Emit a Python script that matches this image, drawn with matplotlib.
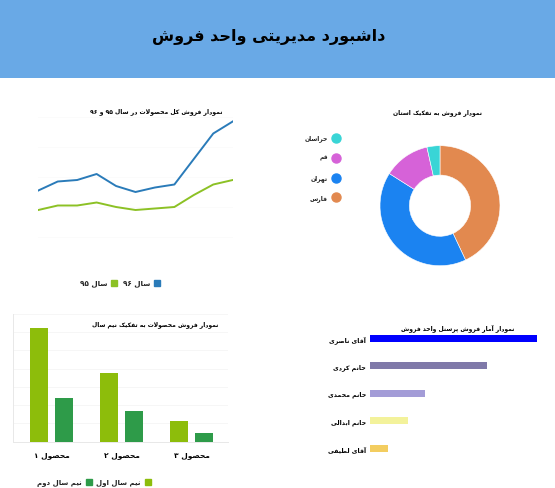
import re
import numpy as np
import matplotlib
matplotlib.use("Agg")
import matplotlib.pyplot as plt
from matplotlib.patches import Rectangle
from matplotlib.lines import Line2D

W, H = 555, 489

# ---- data ----
header_title = "داشبورد مدیریتی واحد فروش"

line_title = "نمودار فروش کل محصولات در سال ۹۵ و ۹۶"
line_labels = ["سال ۹۶", "سال ۹۵"]
sales_96 = [51, 57, 58, 62, 54, 50, 53, 55, 72, 89, 97]
sales_95 = [38, 41, 41, 43, 40, 38, 39, 40, 48, 55, 58]

pie_title = "نمودار فروش به تفکیک استان"
provinces = ["فارس", "تهران", "قم", "خراسان"]
province_share = [43, 41, 12.5, 3.5]
province_colors = ["#e2894f", "#1b83f1", "#d662d8", "#39d5d6"]

half_title = "نمودار فروش محصولات به تفکیک نیم سال"
products = ["محصول ۱", "محصول ۲", "محصول ۳"]
half_labels = ["نیم سال اول", "نیم سال دوم"]
first_half = [125, 75, 23]
second_half = [48, 34, 9.5]

staff_title = "نمودار آمار فروش پرسنل واحد فروش"
staff = ["آقای ناصری", "خانم کردی", "خانم محمدی", "خانم ابدالی", "آقای لطیفی"]
staff_sales = [100, 70, 33, 23, 11]
staff_colors = ["#0000ff", "#7f79a9", "#a39cd7", "#f3f29b", "#f3cd60"]


# ---- minimal persian shaping (matplotlib has no bidi / joining) ----
def _f(*codes):
    return tuple(chr(c) if c else None for c in codes)

FORMS = {
    'ا': _f(0xFE8D, 0xFE8E, 0, 0), 'آ': _f(0xFE81, 0xFE82, 0, 0),
    'ب': _f(0xFE8F, 0xFE90, 0xFE91, 0xFE92), 'پ': _f(0xFB56, 0xFB57, 0xFB58, 0xFB59),
    'ت': _f(0xFE95, 0xFE96, 0xFE97, 0xFE98), 'ث': _f(0xFE99, 0xFE9A, 0xFE9B, 0xFE9C),
    'ج': _f(0xFE9D, 0xFE9E, 0xFE9F, 0xFEA0), 'چ': _f(0xFB7A, 0xFB7B, 0xFB7C, 0xFB7D),
    'ح': _f(0xFEA1, 0xFEA2, 0xFEA3, 0xFEA4), 'خ': _f(0xFEA5, 0xFEA6, 0xFEA7, 0xFEA8),
    'د': _f(0xFEA9, 0xFEAA, 0, 0), 'ذ': _f(0xFEAB, 0xFEAC, 0, 0),
    'ر': _f(0xFEAD, 0xFEAE, 0, 0), 'ز': _f(0xFEAF, 0xFEB0, 0, 0),
    'ژ': _f(0xFB8A, 0xFB8B, 0, 0),
    'س': _f(0xFEB1, 0xFEB2, 0xFEB3, 0xFEB4), 'ش': _f(0xFEB5, 0xFEB6, 0xFEB7, 0xFEB8),
    'ص': _f(0xFEB9, 0xFEBA, 0xFEBB, 0xFEBC), 'ض': _f(0xFEBD, 0xFEBE, 0xFEBF, 0xFEC0),
    'ط': _f(0xFEC1, 0xFEC2, 0xFEC3, 0xFEC4), 'ظ': _f(0xFEC5, 0xFEC6, 0xFEC7, 0xFEC8),
    'ع': _f(0xFEC9, 0xFECA, 0xFECB, 0xFECC), 'غ': _f(0xFECD, 0xFECE, 0xFECF, 0xFED0),
    'ف': _f(0xFED1, 0xFED2, 0xFED3, 0xFED4), 'ق': _f(0xFED5, 0xFED6, 0xFED7, 0xFED8),
    'ک': _f(0xFB8E, 0xFB8F, 0xFB90, 0xFB91), 'گ': _f(0xFB92, 0xFB93, 0xFB94, 0xFB95),
    'ل': _f(0xFEDD, 0xFEDE, 0xFEDF, 0xFEE0), 'م': _f(0xFEE1, 0xFEE2, 0xFEE3, 0xFEE4),
    'ن': _f(0xFEE5, 0xFEE6, 0xFEE7, 0xFEE8), 'ه': _f(0xFEE9, 0xFEEA, 0xFEEB, 0xFEEC),
    'و': _f(0xFEED, 0xFEEE, 0, 0), 'ی': _f(0xFBFC, 0xFBFD, 0xFBFE, 0xFBFF),
}
LAM_ALEF = {'ا': _f(0xFEFB, 0xFEFC), 'آ': _f(0xFEF5, 0xFEF6)}


def joins_next(c):
    return c in FORMS and FORMS[c][2] is not None


def fa(text):
    chars = list(text)
    out = []
    i = 0
    while i < len(chars):
        c = chars[i]
        if c not in FORMS:
            out.append(c)
            i += 1
            continue
        from_prev = i > 0 and joins_next(chars[i - 1])
        nxt = chars[i + 1] if i + 1 < len(chars) else None
        if c == 'ل' and nxt in LAM_ALEF:
            out.append(LAM_ALEF[nxt][1 if from_prev else 0])
            i += 2
            continue
        to_next = joins_next(c) and nxt in FORMS
        iso, fin, ini, med = FORMS[c]
        if from_prev and to_next:
            out.append(med)
        elif from_prev:
            out.append(fin)
        elif to_next:
            out.append(ini)
        else:
            out.append(iso)
        i += 1
    s = ''.join(out)[::-1]
    # digits keep left-to-right order
    return re.sub(r'[۰-۹0-9]+', lambda m: m.group(0)[::-1], s)


plt.rcParams['font.family'] = ['DejaVu Sans']

fig = plt.figure(figsize=(W / 100, H / 100), dpi=100)
fig.patch.set_facecolor("white")


def px_axes(x, y, w, h):
    return fig.add_axes([x / W, 1 - (y + h) / H, w / W, h / H])


def fx(x):
    return x / W


def fy(y):
    return 1 - y / H


def box_item(x_box, y, color, label, marker='s', size=5, fs=5.2, gap=7):
    # legend entry: marker with its label on the left (rtl)
    fig.add_artist(Line2D([fx(x_box)], [fy(y)], marker=marker, markersize=size,
                          color=color, ls='', transform=fig.transFigure))
    fig.text(fx(x_box - gap), fy(y), fa(label), ha='right', va='center',
             fontsize=fs, fontweight='bold', color='#222222')


# header band
fig.add_artist(Rectangle((0, fy(79)), 1, 79 / H, transform=fig.transFigure,
                         facecolor="#69a9e6", edgecolor='none'))
fig.text(fx(269), fy(37), fa(header_title), ha='center', va='center',
         fontsize=11.5, fontweight='bold', color='black')

# line chart
ax1 = px_axes(38.3, 118, 194.4, 150)
x = np.arange(len(sales_96))
ax1.plot(x, sales_96, color="#2a7bb9", lw=1.4)
ax1.plot(x, sales_95, color="#8cc125", lw=1.4)
ax1.set_xlim(0, len(sales_96) - 1)
ax1.set_ylim(0, 100)
ax1.set_yticks(range(0, 101, 20))
ax1.set_xticks([])
ax1.grid(axis='y', color='#fbfbfb', lw=0.6)
ax1.tick_params(length=0, labelleft=False)
for s in ax1.spines.values():
    s.set_visible(False)
fig.text(fx(222), fy(112), fa(line_title), ha='right', va='center',
         fontsize=4.4, fontweight='bold')
box_item(157, 283.5, "#2a7bb9", line_labels[0])
box_item(114, 283.5, "#8cc125", line_labels[1])

# donut chart
ax2 = px_axes(380, 146.7, 120, 120)
ax2.pie(province_share, colors=province_colors, startangle=90, counterclock=False,
        radius=1, wedgeprops=dict(width=0.49, edgecolor='white', linewidth=0.4))
ax2.set_xlim(-1, 1)
ax2.set_ylim(-1, 1)
fig.text(fx(437.5), fy(112.5), fa(pie_title), ha='center', va='center',
         fontsize=4.3, fontweight='bold')
for i, (name, col) in enumerate(zip(provinces[::-1], province_colors[::-1])):
    box_item(336, 138.7 + 19.9 * i, col, name, marker='o', size=6.5, fs=4.3, gap=8)

# grouped bars
ax3 = px_axes(13, 315, 215, 127.7)
xs = np.arange(len(products))
ax3.bar(xs - 0.179, first_half, width=0.257, color="#8dbd0b")
ax3.bar(xs + 0.179, second_half, width=0.257, color="#2e9b49")
ax3.set_xlim(-0.553, 2.52)
ax3.set_ylim(0, 140)
ax3.set_yticks(range(0, 141, 20))
ax3.grid(axis='y', color='#f5f5f5', lw=0.6)
ax3.set_axisbelow(True)
ax3.set_xticks(xs, [fa(p) for p in products])
for lab in ax3.get_xticklabels():
    lab.set_fontweight('bold')
    lab.set_fontsize(5.4)
ax3.tick_params(length=0, labelleft=False, pad=6.5)
for side in ['top', 'right']:
    ax3.spines[side].set_visible(False)
for side in ['left', 'bottom']:
    ax3.spines[side].set_color('#e8e8e8')
    ax3.spines[side].set_linewidth(0.7)
fig.text(fx(218), fy(325), fa(half_title), ha='right', va='center',
         fontsize=4.3, fontweight='bold')
box_item(148, 483, "#8dbd0b", half_labels[0], fs=5)
box_item(89, 483, "#2e9b49", half_labels[1], fs=5)

# horizontal bars
ax4 = px_axes(370, 325.5, 166.7, 137.5)
ys = np.arange(len(staff))
ax4.barh(ys, staff_sales, height=0.24, color=staff_colors)
ax4.set_xlim(0, 100)
ax4.set_ylim(len(staff) - 0.5, -0.5)
ax4.set_xticks([])
ax4.set_yticks(ys, [fa(s) for s in staff])
for lab in ax4.get_yticklabels():
    lab.set_fontweight('bold')
    lab.set_fontsize(4.5)
ax4.tick_params(length=0, pad=3)
for s in ax4.spines.values():
    s.set_visible(False)
fig.text(fx(458), fy(328.5), fa(staff_title), ha='center', va='center',
         fontsize=4.3, fontweight='bold')

fig.savefig("out.png", dpi=100)
